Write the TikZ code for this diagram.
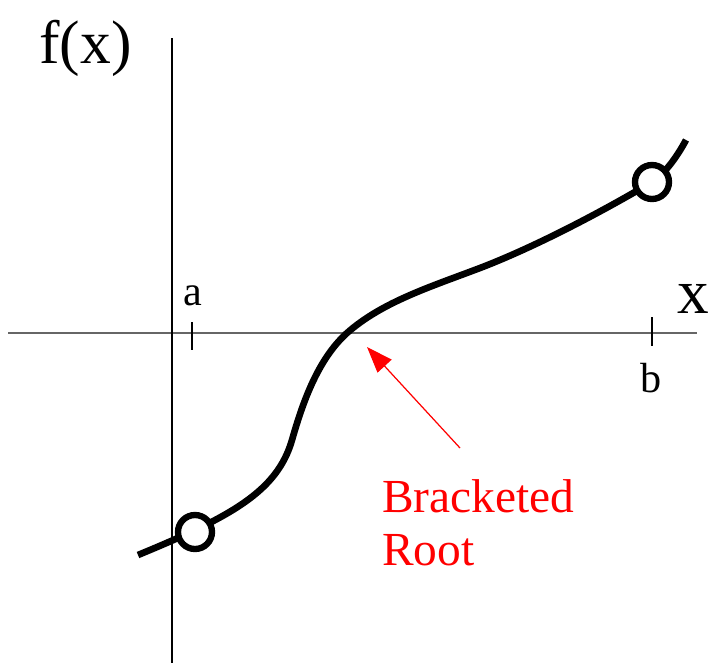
\documentclass[tikz,border=0pt]{standalone}
\usepackage{fontspec}
\setmainfont{Liberation Serif}
\usepackage{tikz}
\usetikzlibrary{arrows.meta}

\begin{document}
\begin{tikzpicture}[x=0.02cm, y=-0.02cm,
  every node/.style={inner sep=0pt},
  endpt/.style={circle, draw, line width=3.6pt, fill=white, minimum size=0.68cm},
  tick/.style={line width=1.1pt}]
  \useasboundingbox (0,0) rectangle (709,663);
  % axes
  \coordinate (xl) at (8,333);
  \coordinate (xr) at (697,333);
  \coordinate (yt) at (172,38);
  \coordinate (yb) at (172,663);
  \draw[gray!80!black, line width=1pt] (xl) -- (xr);
  \draw[line width=0.6pt] (yt) -- (yb);
  \node[font=\fontsize{35}{40}\selectfont, anchor=base west] (fx) at (39,63) {f(x)};
  \node[font=\fontsize{36}{40}\selectfont, anchor=base east] (xlab) at (709,313) {x};
  % bracket ends
  \coordinate (ta) at (192,322);
  \coordinate (tb) at (192,350);
  \coordinate (ua) at (652,317);
  \coordinate (ub) at (652,346);
  \draw[tick] (ta) -- (tb);
  \draw[tick] (ua) -- (ub);
  \node[font=\fontsize{24}{28}\selectfont, anchor=base] (a) at (193,305) {a};
  \node[font=\fontsize{24}{28}\selectfont, anchor=base] (b) at (651,392) {b};
  % function
  \draw[line width=3.8pt] (138,555) .. controls (230,517) and (277,492) .. (292,440)
    .. controls (302,405) and (317,360) .. (347,333)
    .. controls (382,302) and (430,287) .. (480,268)
    .. controls (540,245) and (610,207) .. (652,182)
    .. controls (665,174) and (678,155) .. (686,140);
  \node[endpt] (fa) at (195,532) {};
  \node[endpt] (fb) at (652,182) {};
  % root
  \coordinate (root) at (367,347);
  \coordinate (tail) at (460,448);
  \draw[red, line width=0.7pt, -{Triangle[length=0.52cm, width=0.38cm]}] (tail) -- (root);
  \node[red, font=\fontsize{27}{30}\selectfont, anchor=base west, align=left] (lbl) at (382,565) {Bracketed\\Root};
\end{tikzpicture}
\end{document}
